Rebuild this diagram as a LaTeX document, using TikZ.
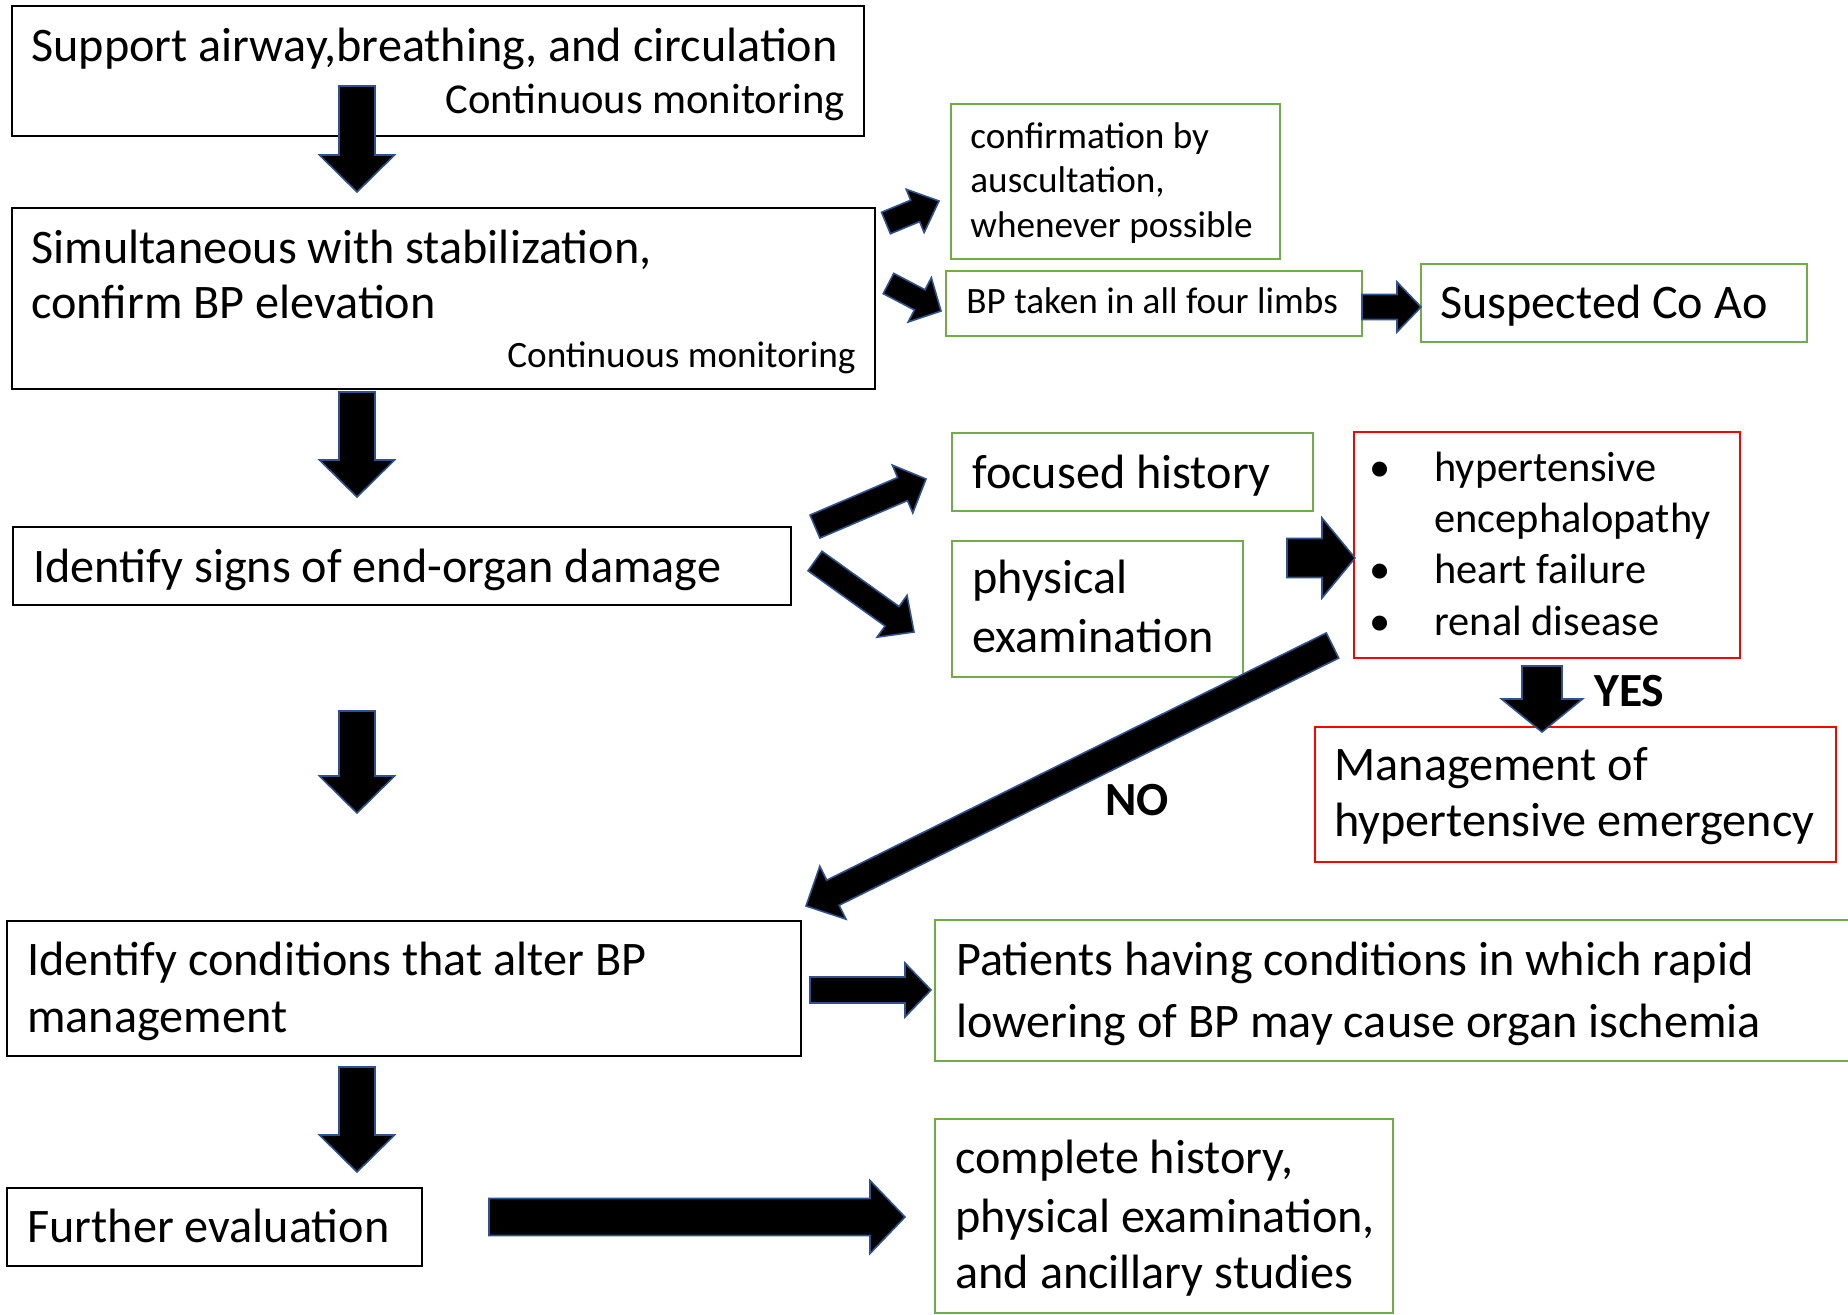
\documentclass[tikz,border=0pt]{standalone}
\usepackage{fontspec}
\setmainfont{Carlito}
\usetikzlibrary{calc,fit}
\definecolor{grn}{HTML}{70AD47}
\definecolor{arrowedge}{HTML}{2F528F}
\tikzset{
  boxbase/.style={line width=1pt, inner sep=0pt, fill=white},
  blackbox/.style={boxbase, draw=black},
  greenbox/.style={boxbase, draw=grn},
  redbox/.style={boxbase, draw=red},
  txt/.style={inner sep=0pt, anchor=base west, font=\fontsize{24.1}{28}\selectfont},
  rtxt/.style={txt, anchor=base east},
  midtxt/.style={font=\fontsize{21.3}{25}\selectfont},
  smalltxt/.style={font=\fontsize{18.6}{22}\selectfont},
  listtxt/.style={font=\fontsize{21.2}{25}\selectfont},
  boldtxt/.style={font=\fontsize{23.8}{28}\selectfont\bfseries},
  blockarrow/.style={fill=black, draw=arrowedge, line width=0.8pt, line join=miter},
}
% #1 tail, #2 tip, #3 shaft half width, #4 head half width, #5 head length
\newcommand\blockarrow[5]{%
  \coordinate (bah) at ($(#2)!#5!(#1)$);
  \filldraw[blockarrow] ($(#1)!#3!90:(#2)$) -- ($(bah)!#3!90:(#2)$) -- ($(bah)!#4!90:(#2)$) -- (#2) -- ($(bah)!#4!-90:(#2)$) -- ($(bah)!#3!-90:(#2)$) -- ($(#1)!#3!-90:(#2)$) -- cycle;}
\begin{document}
\begin{tikzpicture}[x=0.5pt, y=-0.5pt]
\useasboundingbox (0,0) rectangle (1848,1314);
\fill[white] (0,0) rectangle (1848,1314);

% boxes
\node[blackbox, fit={(12,6) (864,136)}] (A) {};
\node[blackbox, fit={(12,208) (875,389)}] (B) {};
\node[blackbox, fit={(13,527) (791,605)}] (C) {};
\node[blackbox, fit={(7,921) (801,1056)}] (D) {};
\node[blackbox, fit={(7,1188) (422,1266)}] (E) {};
\node[greenbox, fit={(935,1119) (1393,1313)}] (F) {};
\node[greenbox, fit={(935,920) (1856,1061)}] (G) {};
\node[greenbox, fit={(951,104) (1280,259)}] (H) {};
\node[greenbox, fit={(946,271) (1362,336)}] (I) {};
\node[greenbox, fit={(1421,264) (1807,342)}] (J) {};
\node[greenbox, fit={(952,433) (1313,511)}] (K) {};
\node[greenbox, fit={(952,541) (1243,677)}] (L) {};
\node[redbox, fit={(1354,432) (1740,658)}] (M) {};
\node[redbox, fit={(1315,727) (1836,862)}] (N) {};

% texts
\node[txt] (A1) at (31,61) {Support airway,breathing, and circulation};
\node[rtxt, midtxt] (A2) at (845,113) {Continuous monitoring};
\node[txt] (B1) at (31,263) {Simultaneous with stabilization,};
\node[txt] (B2) at (31,318) {confirm BP elevation};
\node[rtxt, smalltxt] (B3) at (856,367) {Continuous monitoring};
\node[txt] (C1) at (33,582) {Identify signs of end-organ damage};
\node[txt] (D1) at (27,975) {Identify conditions that alter BP};
\node[txt] (D2) at (27,1032) {management};
\node[txt] (E1) at (27,1242) {Further evaluation};
\node[txt] (F1) at (955,1173) {complete history,};
\node[txt] (F2) at (955,1232) {physical examination,};
\node[txt] (F3) at (955,1288) {and ancillary studies};
\node[txt] (G1) at (956,975) {Patients having conditions in which rapid};
\node[txt] (G2) at (956,1037) {lowering of BP may cause organ ischemia};
\node[txt, smalltxt] (H1) at (970,148) {confirmation by};
\node[txt, smalltxt] (H2) at (970,192) {auscultation,};
\node[txt, smalltxt] (H3) at (970,237) {whenever possible};
\node[txt, smalltxt] (I1) at (966,313) {BP taken in all four limbs};
\node[txt] (J1) at (1440,318) {Suspected Co Ao};
\node[txt] (K1) at (972,488) {focused history};
\node[txt] (L1) at (972,593) {physical};
\node[txt] (L2) at (972,652) {examination};
\node[txt, listtxt] (Mb1) at (1369,481) {•};
\node[txt, listtxt] (Mb3) at (1369,583) {•};
\node[txt, listtxt] (Mb4) at (1369,635) {•};
\node[txt, listtxt] (M1) at (1434,481) {hypertensive};
\node[txt, listtxt] (M2) at (1434,532) {encephalopathy};
\node[txt, listtxt] (M3) at (1434,583) {heart failure};
\node[txt, listtxt] (M4) at (1434,635) {renal disease};
\node[txt] (N1) at (1334,780) {Management of};
\node[txt] (N2) at (1334,836) {hypertensive emergency};
\node[txt, boldtxt] (yes) at (1594,706) {YES};
\node[txt, boldtxt] (no) at (1105,815) {NO};

% arrow end points
\coordinate (a1s) at (357,86);   \coordinate (a1e) at (357,192);
\coordinate (a2s) at (357,392);  \coordinate (a2e) at (357,497);
\coordinate (a3s) at (357,711);  \coordinate (a3e) at (357,813);
\coordinate (a4s) at (357,1067); \coordinate (a4e) at (357,1172);
\coordinate (a5s) at (489,1217); \coordinate (a5e) at (905,1217);
\coordinate (dgs) at (810,990);  \coordinate (dge) at (931,990);
\coordinate (ijs) at (1362,307); \coordinate (ije) at (1421,307);
\coordinate (bhs) at (886,223);  \coordinate (bhe) at (939,201);
\coordinate (bis) at (888.5,283.5); \coordinate (bie) at (941,311);
\coordinate (cks) at (815,526.5); \coordinate (cke) at (926,479);
\coordinate (cls) at (815,561);  \coordinate (cle) at (914,632);
\coordinate (nos) at (1332.5,645.5); \coordinate (noe) at (806,906);
\coordinate (ms) at (1287,558);  \coordinate (me) at (1355,558);
\coordinate (ys) at (1542,666);  \coordinate (ye) at (1542,732);

% arrows
\blockarrow{a1s}{a1e}{9pt}{18.75pt}{18.5pt}
\blockarrow{a2s}{a2e}{9pt}{18.75pt}{18.5pt}
\blockarrow{a3s}{a3e}{9pt}{18.75pt}{18.5pt}
\blockarrow{a4s}{a4e}{9pt}{18.75pt}{18.5pt}
\blockarrow{a5s}{a5e}{9.25pt}{18.25pt}{17.5pt}
\blockarrow{dgs}{dge}{6.5pt}{13.5pt}{13pt}
\blockarrow{ijs}{ije}{6.25pt}{12.5pt}{12pt}
\blockarrow{bhs}{bhe}{5.8pt}{11.7pt}{12.9pt}
\blockarrow{bis}{bie}{5.7pt}{12.5pt}{12pt}
\blockarrow{cks}{cke}{6.25pt}{13pt}{12.75pt}
\blockarrow{cls}{cle}{6pt}{12.85pt}{13.5pt}
\blockarrow{nos}{noe}{7pt}{14.75pt}{15pt}
\blockarrow{ms}{me}{9.75pt}{20pt}{16.5pt}
\blockarrow{ys}{ye}{10pt}{20.25pt}{16.5pt}
\end{tikzpicture}
\end{document}
